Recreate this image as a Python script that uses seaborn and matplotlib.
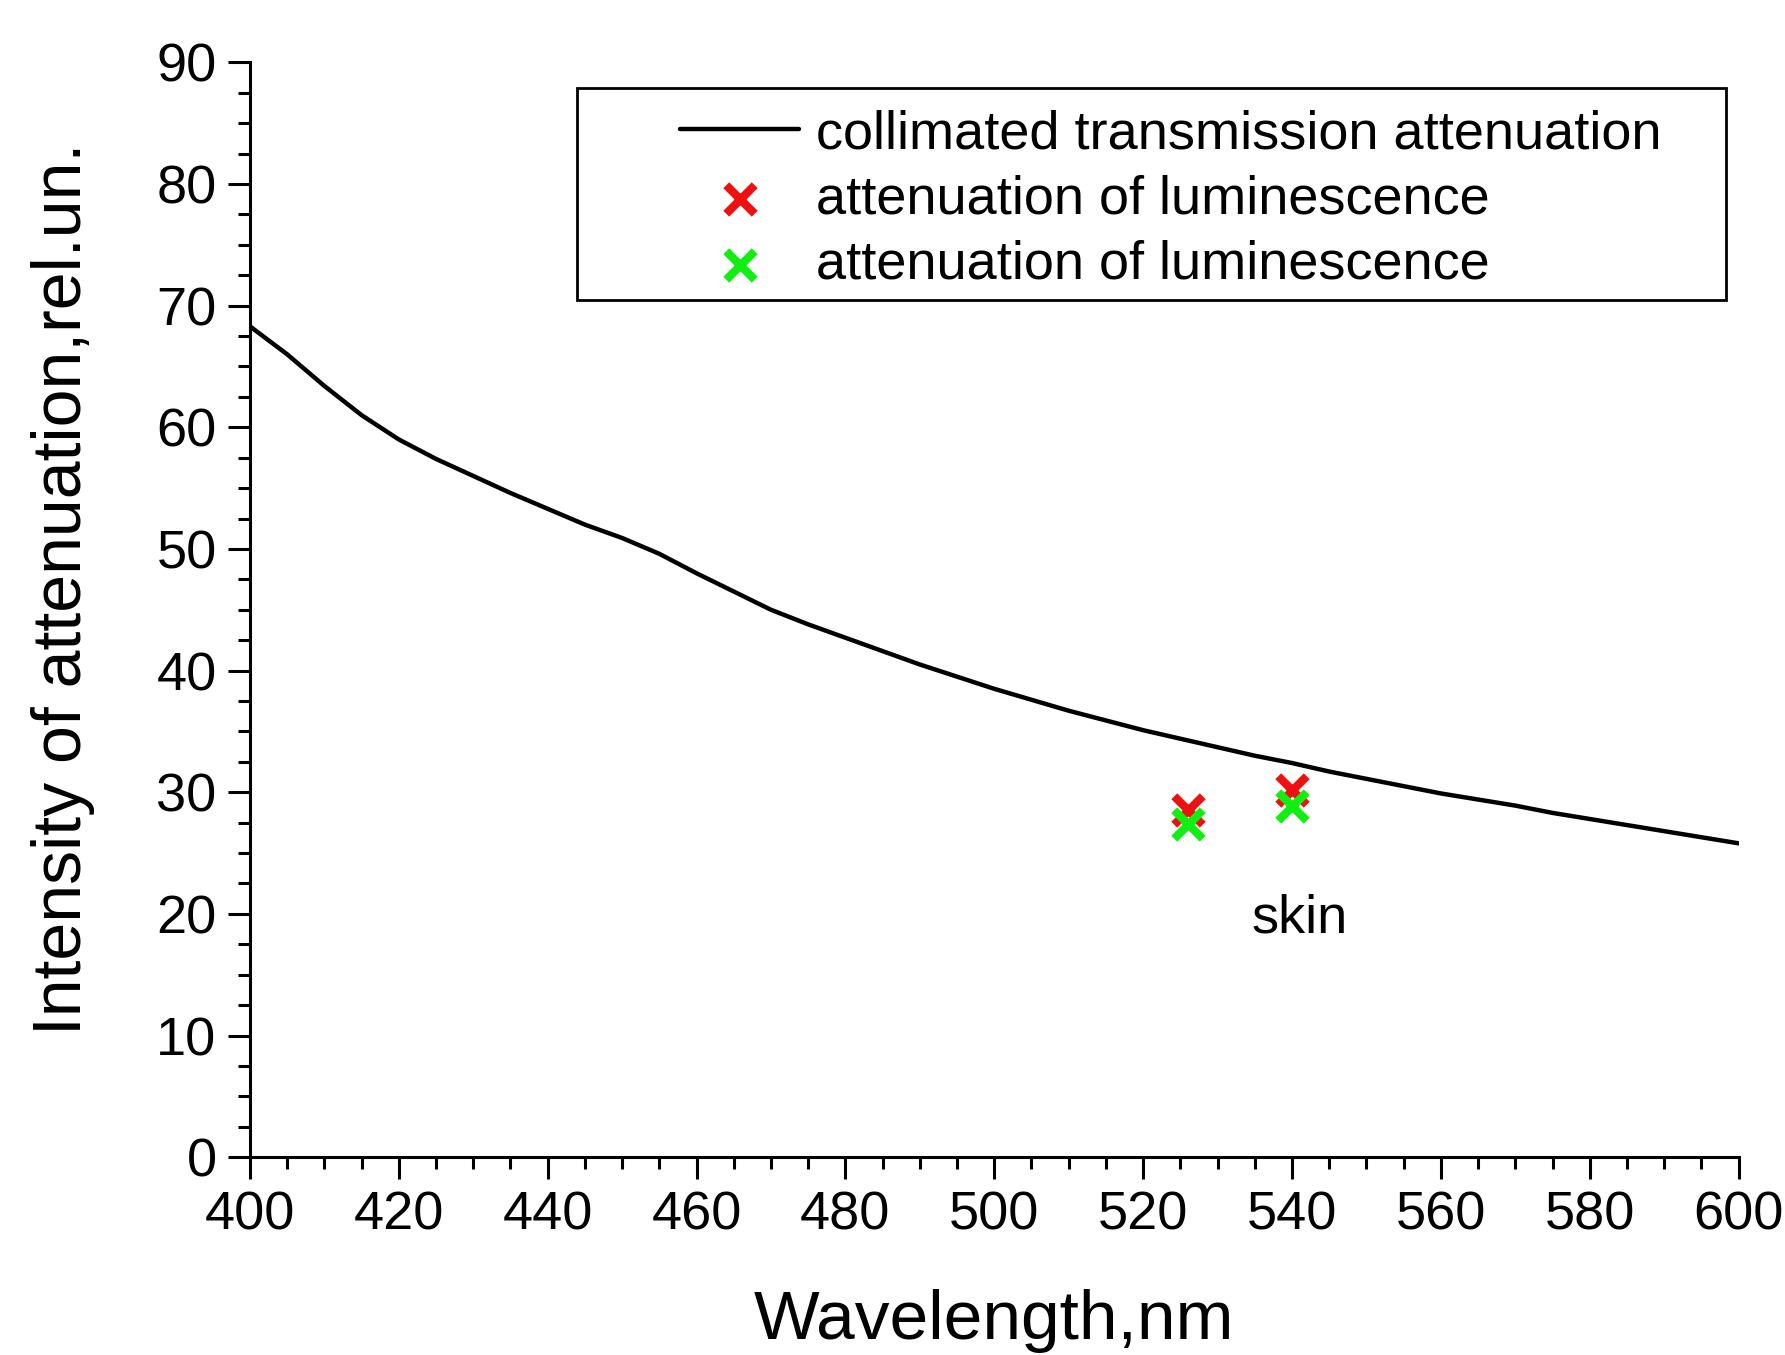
import matplotlib
matplotlib.use("Agg")
import matplotlib.pyplot as plt
import seaborn as sns
from matplotlib.ticker import MultipleLocator
from matplotlib.patches import Rectangle

# data
wavelength = [400, 405, 410, 415, 420, 425, 430, 435, 440, 445, 450, 455, 460, 465, 470,
              475, 480, 485, 490, 495, 500, 505, 510, 515, 520, 525, 530, 535, 540, 545,
              550, 555, 560, 565, 570, 575, 580, 585, 590, 595, 600]
attenuation = [68.3, 66.0, 63.4, 61.0, 59.0, 57.4, 56.0, 54.6, 53.3, 52.0, 50.9, 49.6, 48.0,
               46.5, 45.0, 43.8, 42.7, 41.6, 40.5, 39.5, 38.5, 37.6, 36.7, 35.9, 35.1, 34.4,
               33.7, 33.0, 32.4, 31.7, 31.1, 30.5, 29.9, 29.4, 28.9, 28.3, 27.8, 27.3, 26.8,
               26.3, 25.8]
lum_x = [526, 540]
lum_red = [28.5, 30.2]
lum_green = [27.4, 28.9]
label_line = "collimated transmission attenuation"
label_lum = "attenuation of luminescence"

sns.set_style("ticks")
plt.rcParams['font.family'] = ['Liberation Sans', 'DejaVu Sans']
plt.rcParams.update({"text.color": "black", "axes.labelcolor": "black",
                     "xtick.color": "black", "ytick.color": "black",
                     "axes.edgecolor": "black"})

fig = plt.figure(figsize=(17.85, 13.55), dpi=100)
ax = fig.add_axes([0.140, 0.146, 0.834, 0.808])

sns.lineplot(x=wavelength, y=attenuation, color="black", linewidth=3.2, ax=ax, label=label_line)
sns.scatterplot(x=lum_x, y=lum_red, marker="x", color="#ee1111", s=420, linewidth=6, ax=ax, label=label_lum, zorder=3)
sns.scatterplot(x=lum_x, y=lum_green, marker="x", color="#11ee11", s=420, linewidth=6, ax=ax, label=label_lum, zorder=4)

ax.text(541, 19.6, "skin", fontsize=39, ha="center", va="center")

ax.set_xlim(400, 600)
ax.set_ylim(0, 90)
ax.xaxis.set_major_locator(MultipleLocator(20))
ax.xaxis.set_minor_locator(MultipleLocator(5))
ax.yaxis.set_major_locator(MultipleLocator(10))
ax.yaxis.set_minor_locator(MultipleLocator(2.5))
ax.tick_params(which="major", direction="out", length=16, width=2.2, labelsize=39, pad=8)
ax.tick_params(which="minor", direction="out", length=8.5, width=2.2)
for s in ["top", "right"]:
    ax.spines[s].set_visible(False)
for s in ["left", "bottom"]:
    ax.spines[s].set_linewidth(2.2)

ax.set_xlabel("Wavelength,nm", fontsize=50, labelpad=35)
ax.set_ylabel("Intensity of attenuation,rel.un.", fontsize=49)
ax.yaxis.set_label_coords(-0.104, 0.519)

# legend without its own frame, box drawn separately (wider left padding like the original)
leg = ax.legend(loc="upper left", bbox_to_anchor=(0.289, 0.957), fontsize=39, frameon=False,
                handlelength=2.2, handletextpad=0.3, borderpad=0, labelspacing=0.28,
                borderaxespad=0)
ax.add_patch(Rectangle((0.2198, 0.7826), 0.7715, 0.1937, transform=ax.transAxes,
                       fill=False, edgecolor="black", linewidth=2, zorder=5))

fig.savefig("out.png", dpi=100)
